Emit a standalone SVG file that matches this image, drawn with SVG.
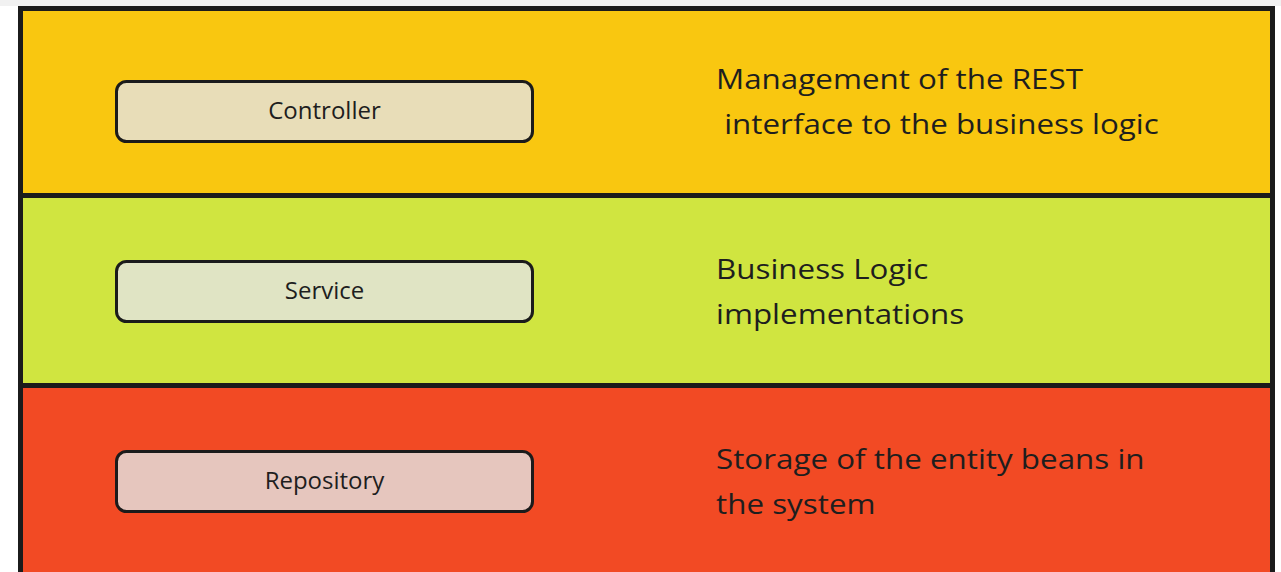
<svg xmlns="http://www.w3.org/2000/svg" width="1281" height="572" viewBox="0 0 1281 572">
  <style>
    .band-line { stroke: #1b1b1b; stroke-width: 5; fill: none; }
    .box { stroke: #1b1b1b; stroke-width: 3; }
    .box-label { font-family: "Open Sans", "Noto Sans", sans-serif; font-size: 24px; fill: #1e1e1e; text-anchor: middle; }
    .note { font-family: "Open Sans", "Noto Sans", sans-serif; font-size: 28px; fill: #1e1e1e; }
  </style>
  <rect x="0" y="0" width="1281" height="572" fill="#ffffff"/>
  <rect x="0" y="0" width="1281" height="6" fill="#f1f1f1"/>

  <!-- layer bands -->
  <g id="bands">
    <rect x="21" y="9" width="1252" height="186" fill="#f9c710"/>
    <rect x="21" y="195" width="1252" height="191" fill="#d0e540"/>
    <rect x="21" y="386" width="1252" height="190" fill="#f24a24"/>
    <path class="band-line" d="M20.5 580 V8.5 H1272.5 V580" stroke-width="3.5"/>
    <line class="band-line" x1="20" y1="195.5" x2="1274" y2="195.5"/>
    <line class="band-line" x1="20" y1="385.5" x2="1274" y2="385.5"/>
  </g>

  <g id="controller">
    <rect class="box" x="116.5" y="81.5" width="416" height="60" rx="10" fill="#e8ddb8"/>
    <text class="box-label" x="324.5" y="119">Controller</text>
  </g>
  <g id="controller-note" transform="translate(716,0) scale(1.12,1)">
    <text class="note" x="0" y="89">Management of the REST</text>
    <text class="note" x="0" y="134" xml:space="preserve"> interface to the business logic</text>
  </g>

  <g id="service">
    <rect class="box" x="116.5" y="261.5" width="416" height="60" rx="10" fill="#e0e4c4"/>
    <text class="box-label" x="324.5" y="299">Service</text>
  </g>
  <g id="service-note" transform="translate(716,0) scale(1.12,1)">
    <text class="note" x="0" y="279">Business Logic</text>
    <text class="note" x="0" y="324">implementations</text>
  </g>

  <g id="repository">
    <rect class="box" x="116.5" y="451.5" width="416" height="60" rx="10" fill="#e6c6be"/>
    <text class="box-label" x="324.5" y="489">Repository</text>
  </g>
  <g id="repository-note" transform="translate(716,0) scale(1.12,1)">
    <text class="note" x="0" y="469">Storage of the entity beans in</text>
    <text class="note" x="0" y="514">the system</text>
  </g>

  <g id="connectors"/>
</svg>
